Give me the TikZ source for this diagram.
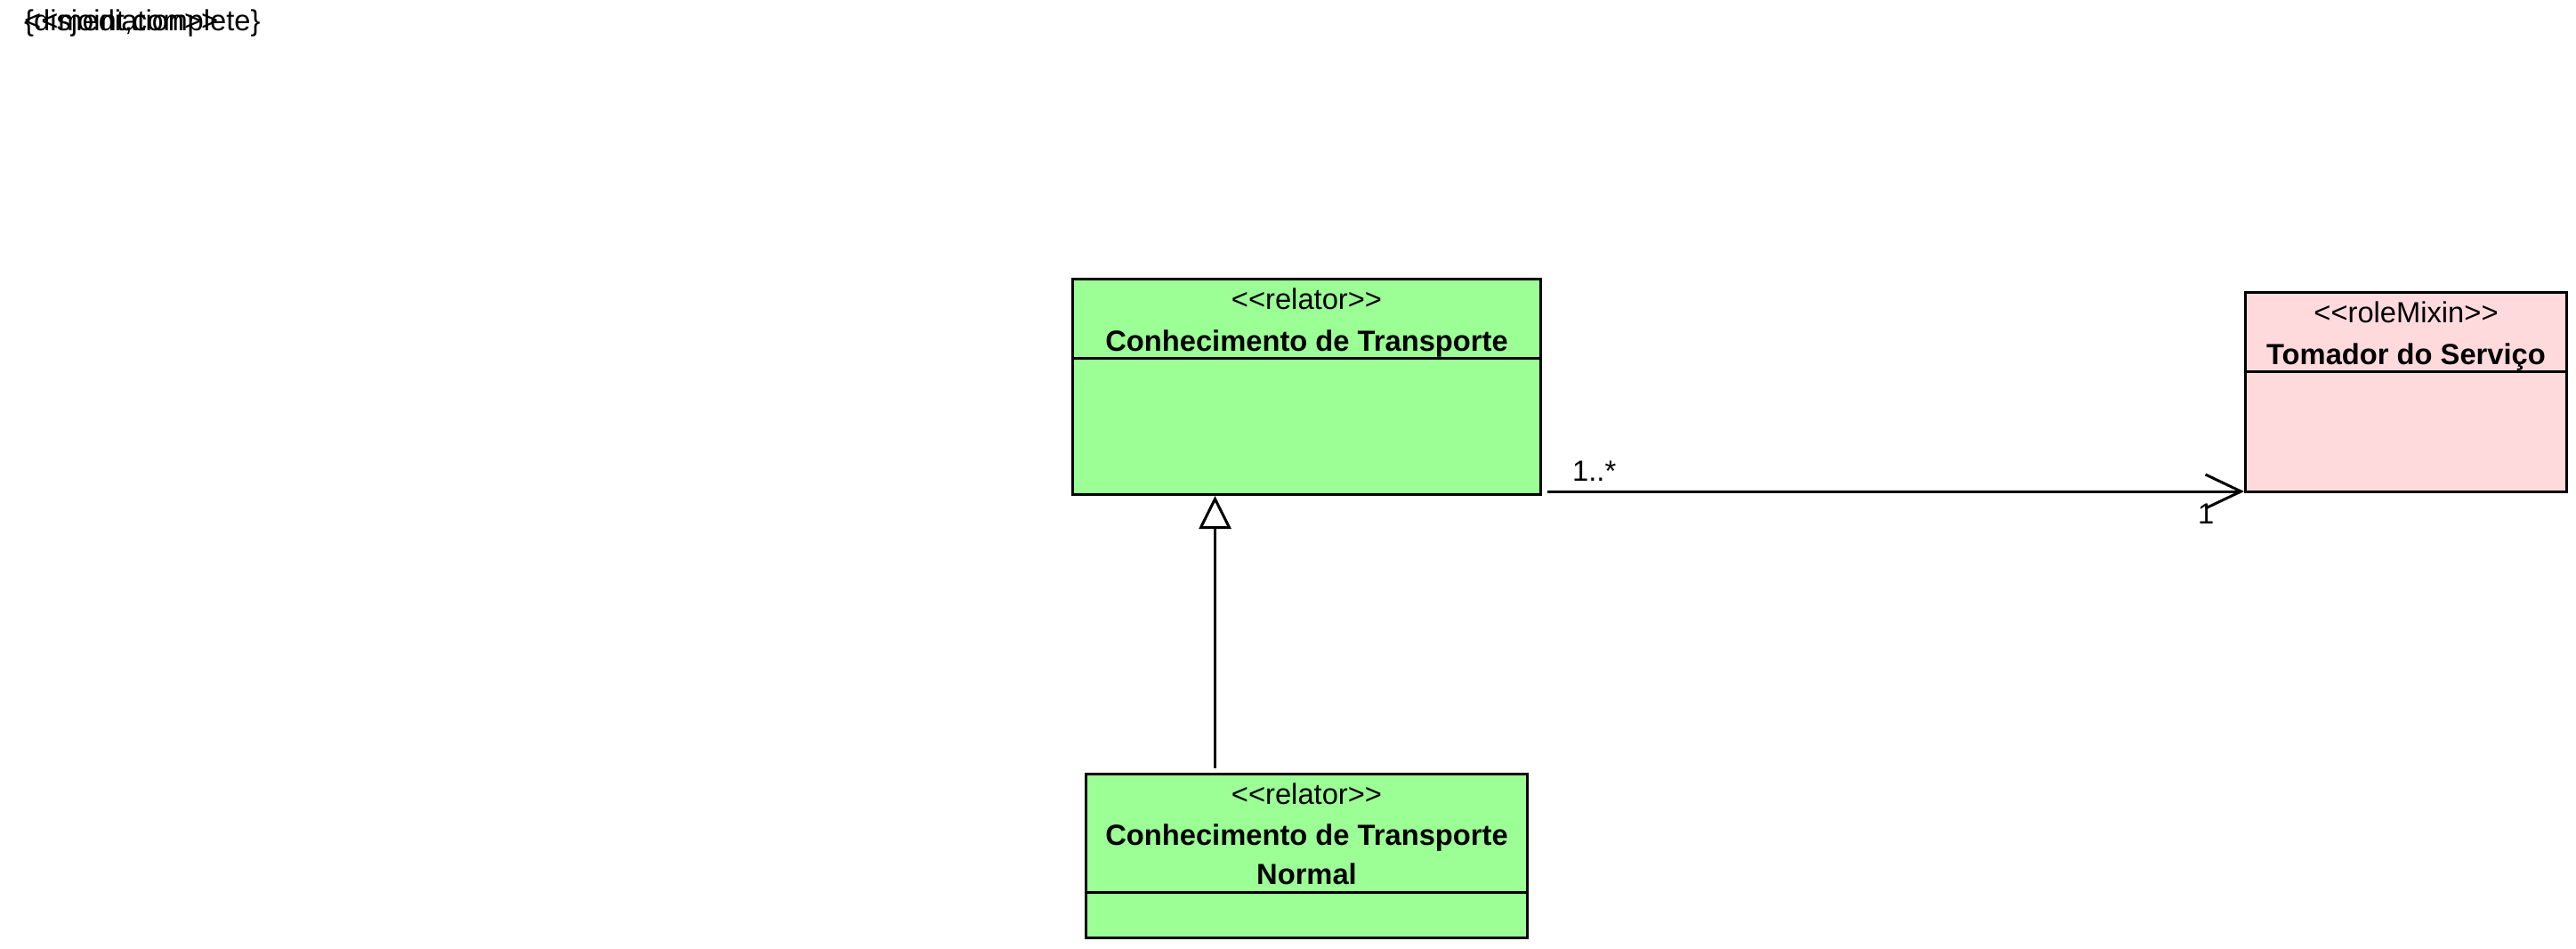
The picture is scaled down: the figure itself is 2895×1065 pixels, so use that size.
\documentclass[tikz,border=0pt]{standalone}
\usepackage{fontspec}
\setmainfont{Liberation Sans}
\usetikzlibrary{arrows.meta}
\definecolor{relgreen}{RGB}{155,255,150}
\definecolor{rolepink}{RGB}{255,218,221}
\newcommand{\stereo}[1]{<{}<#1>{}>}
\begin{document}
\begin{tikzpicture}[x=1pt,y=-1pt,
  font=\fontsize{32.7}{44}\selectfont,
  cls/.style={draw, line width=3pt, inner sep=0pt, anchor=north west},
  lbl/.style={anchor=base, inner sep=0pt},
  lblw/.style={anchor=base west, inner sep=0pt},
  sep/.style={line width=3pt},
  assoc/.style={line width=3pt, -{Straight Barb[length=40pt,width=38pt,line width=3pt]}},
  gen/.style={line width=3pt, -{Triangle[open,length=37pt,width=36pt,line width=3pt]}}]
\useasboundingbox (0,0) rectangle (2895,1065);

% generalization-set / stereotype labels drawn at the origin (overlapping)
\node[lblw] (gs) at (27,35) {\{disjoint,complete\}};
\node[lblw] (med) at (27,35) {\stereo{mediation}};

% classes
\node[cls, fill=relgreen, minimum width=526pt, minimum height=242pt] (b1) at (1204,312) {};
\draw[sep] ([yshift=-90pt]b1.north west) -- ([yshift=-90pt]b1.north east);
\node[lbl] (b1s) at ([yshift=-35pt]b1.north) {\stereo{relator}};
\node[lbl] (b1n) at ([yshift=-82pt]b1.north) {\bfseries Conhecimento de Transporte};

\node[cls, fill=rolepink, minimum width=361pt, minimum height=224pt] (b2) at (2522,327) {};
\draw[sep] ([yshift=-90pt]b2.north west) -- ([yshift=-90pt]b2.north east);
\node[lbl] (b2s) at ([yshift=-35pt]b2.north) {\stereo{roleMixin}};
\node[lbl] (b2n) at ([yshift=-82pt]b2.north) {\bfseries Tomador do Serviço};

\node[cls, fill=relgreen, minimum width=496pt, minimum height=184pt] (b3) at (1219,868) {};
\draw[sep] ([yshift=-134pt]b3.north west) -- ([yshift=-134pt]b3.north east);
\node[lbl] (b3s) at ([yshift=-35pt]b3.north) {\stereo{relator}};
\node[lbl] (b3n) at ([yshift=-81pt]b3.north) {\bfseries Conhecimento de Transporte};
\node[lbl] (b3m) at ([yshift=-125pt]b3.north) {\bfseries Normal};

% association
\coordinate (astart) at ([xshift=6pt,yshift=2pt]b1.south east |- b2.south west);
\draw[assoc] (astart) -- ([yshift=2pt]b2.south west);
\node[lblw] (m1) at (1767,540) {1..*};
\node[lblw] (m2) at (2470,588) {1};

% generalization
\draw[gen] ([xshift=-103pt,yshift=5pt]b3.north) -- ([xshift=-103pt]b1.south);
\end{tikzpicture}
\end{document}
